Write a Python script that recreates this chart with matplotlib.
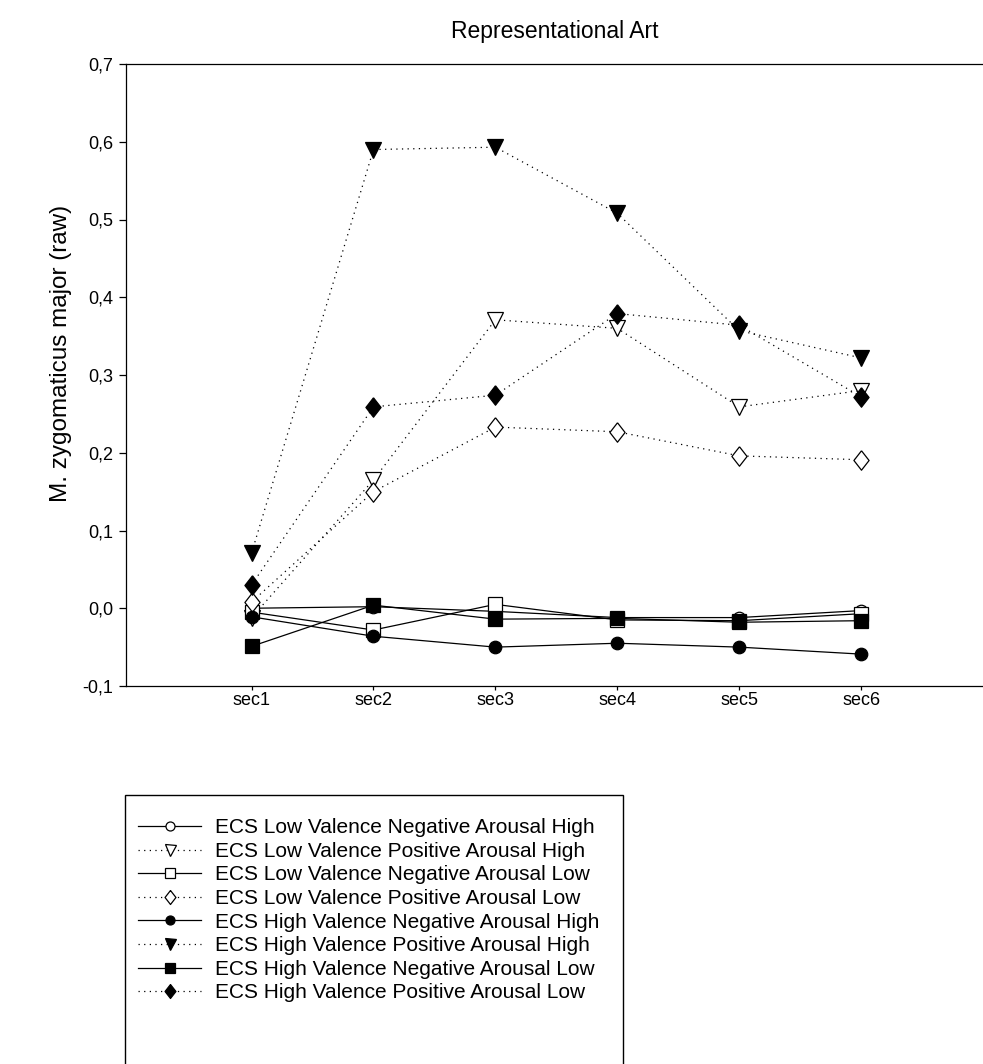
import matplotlib.pyplot as plt
from matplotlib.patches import Rectangle
from matplotlib.ticker import FuncFormatter

plt.rcParams['font.family'] = ['Liberation Sans', 'DejaVu Sans']

sections = ['sec1', 'sec2', 'sec3', 'sec4', 'sec5', 'sec6']

lv_neg_ah = [0.000, 0.002, -0.004, -0.012, -0.012, -0.003]
lv_pos_ah = [-0.012, 0.165, 0.371, 0.360, 0.259, 0.280]
lv_neg_al = [-0.005, -0.028, 0.005, -0.015, -0.016, -0.007]
lv_pos_al = [0.008, 0.150, 0.233, 0.227, 0.196, 0.191]
hv_neg_ah = [-0.011, -0.036, -0.050, -0.045, -0.050, -0.059]
hv_pos_ah = [0.071, 0.590, 0.593, 0.508, 0.357, 0.322]
hv_neg_al = [-0.049, 0.004, -0.014, -0.013, -0.018, -0.016]
hv_pos_al = [0.030, 0.259, 0.274, 0.379, 0.364, 0.272]

labels = [
    'ECS Low Valence Negative Arousal High',
    'ECS Low Valence Positive Arousal High',
    'ECS Low Valence Negative Arousal Low',
    'ECS Low Valence Positive Arousal Low',
    'ECS High Valence Negative Arousal High',
    'ECS High Valence Positive Arousal High',
    'ECS High Valence Negative Arousal Low',
    'ECS High Valence Positive Arousal Low',
]
series = [lv_neg_ah, lv_pos_ah, lv_neg_al, lv_pos_al,
          hv_neg_ah, hv_pos_ah, hv_neg_al, hv_pos_al]

# diamond a bit wider than matplotlib's thin 'd'
diamond = [(0, 1), (0.78, 0), (0, -1), (-0.78, 0), (0, 1)]
markers = ['o', 'v', 's', diamond, 'o', 'v', 's', diamond]
sizes = [9, 11, 10, 14, 9, 11, 10, 14]
filled = [False, False, False, False, True, True, True, True]
dotted = [False, True, False, True, False, True, False, True]

fig = plt.figure(figsize=(9.83, 10.64), dpi=100)
ax = fig.add_axes([126 / 983, 1 - 686 / 1064, 1 - 126 / 983, (686 - 64) / 1064])

x = list(range(1, len(sections) + 1))
handles = []
for vals, m, ms, f, d, lab in zip(series, markers, sizes, filled, dotted, labels):
    ls = (0, (1, 3.5)) if d else '-'
    h, = ax.plot(x, vals, color='black', lw=0.9, linestyle=ls, marker=m, markersize=ms,
                 markerfacecolor='black' if f else 'white', markeredgecolor='black',
                 markeredgewidth=0.9, label=lab)
    handles.append(h)

ax.set_xlim(-0.03, 7.0)
ax.set_ylim(-0.1, 0.7)
ax.set_xticks(x)
ax.set_xticklabels(sections)
ax.set_yticks([i / 10 for i in range(-1, 8)])
ax.yaxis.set_major_formatter(FuncFormatter(lambda v, p: f'{v:.1f}'.replace('.', ',')))
ax.tick_params(axis='x', length=3, width=0.9, pad=1.5, labelsize=13)
ax.tick_params(axis='y', length=5, width=0.9, pad=4, labelsize=13)
ax.spines['right'].set_visible(False)
for s in ['left', 'bottom', 'top']:
    ax.spines[s].set_linewidth(0.9)

ax.set_ylabel('M. zygomaticus major (raw)', fontsize=17.5, labelpad=10)
ax.yaxis.set_label_coords(-0.063, 0.535)
ax.set_title('Representational Art', fontsize=16.5, pad=19)

fig.legend(handles=handles, loc='upper left', bbox_to_anchor=(130 / 983, 1 - 810 / 1064),
           frameon=False, fontsize=15, handlelength=3.0, handletextpad=0.7,
           labelspacing=0.22, markerscale=0.72, borderaxespad=0)
fig.patches.append(Rectangle((125 / 983, 1 - 1080 / 1064), (623 - 125) / 983, (1080 - 795) / 1064,
                             transform=fig.transFigure, fill=False, edgecolor='black', lw=1.0))

fig.savefig('out.png', dpi=100, facecolor='white')
